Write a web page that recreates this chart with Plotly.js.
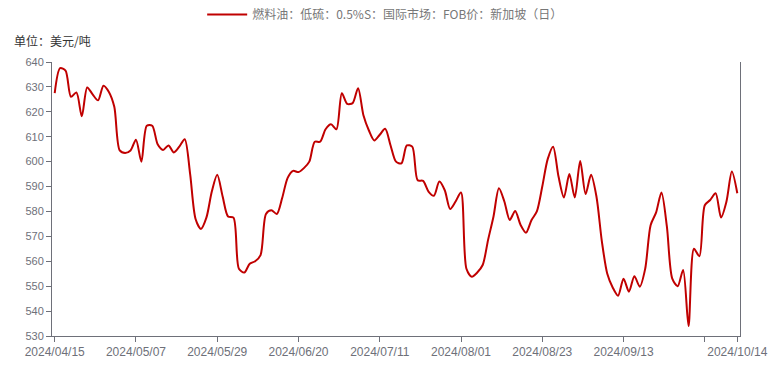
<!DOCTYPE html>
<html>
<head>
<meta charset="utf-8">
<script src="https://cdn.plot.ly/plotly-3.0.1.min.js"></script>
<style>
html,body{margin:0;padding:0;background:#fff;}
#chart{width:775px;height:365px;}
</style>
</head>
<body>
<div id="chart"></div>
<script>
// Trading dates (category axis)
const dates = [
 '2024/04/15','2024/04/16','2024/04/17','2024/04/18','2024/04/19','2024/04/22','2024/04/23','2024/04/24','2024/04/25','2024/04/26','2024/04/29','2024/04/30',
 '2024/05/02','2024/05/03','2024/05/06','2024/05/07','2024/05/08','2024/05/09','2024/05/10','2024/05/13','2024/05/14','2024/05/15','2024/05/16','2024/05/17','2024/05/20','2024/05/21','2024/05/23','2024/05/24','2024/05/27','2024/05/28','2024/05/29','2024/05/30','2024/05/31',
 '2024/06/03','2024/06/04','2024/06/05','2024/06/06','2024/06/07','2024/06/10','2024/06/11','2024/06/12','2024/06/13','2024/06/14','2024/06/18','2024/06/19','2024/06/20','2024/06/21','2024/06/24','2024/06/25','2024/06/26','2024/06/27','2024/06/28',
 '2024/07/01','2024/07/02','2024/07/03','2024/07/04','2024/07/05','2024/07/08','2024/07/09','2024/07/10','2024/07/11','2024/07/12','2024/07/15','2024/07/16','2024/07/17','2024/07/18','2024/07/19','2024/07/22','2024/07/23','2024/07/24','2024/07/25','2024/07/26','2024/07/29','2024/07/30','2024/07/31',
 '2024/08/01','2024/08/02','2024/08/05','2024/08/06','2024/08/07','2024/08/08','2024/08/12','2024/08/13','2024/08/14','2024/08/15','2024/08/16','2024/08/19','2024/08/20','2024/08/21','2024/08/22','2024/08/23','2024/08/26','2024/08/27','2024/08/28','2024/08/29','2024/08/30',
 '2024/09/02','2024/09/03','2024/09/04','2024/09/05','2024/09/06','2024/09/09','2024/09/10','2024/09/11','2024/09/12','2024/09/13','2024/09/16','2024/09/17','2024/09/18','2024/09/19','2024/09/20','2024/09/23','2024/09/24','2024/09/25','2024/09/26','2024/09/27','2024/09/30',
 '2024/10/01','2024/10/02','2024/10/03','2024/10/04','2024/10/07','2024/10/08','2024/10/09','2024/10/10','2024/10/11','2024/10/14'
];

// 燃料油：低硫：0.5%S：国际市场：FOB价：新加坡（日）, 美元/吨
const prices = [
 627.5,637.5,636.5,626,627.8,618.2,629.8,627,624.6,630.5,628,622,
 604.5,603.5,604.5,608.8,600,614.4,614.4,607,604.7,606.5,603.7,606,609,595,577,573,577.5,588,594.7,586,578,
 577.5,557,555.5,559,560,562.5,579,580.5,579,585.5,593.5,596.3,595.8,597.4,600,608,608,613,615,
 613,627.5,623.2,623.5,629.5,618.5,612.5,608.5,610.8,613.2,606.5,600,599.3,606.5,606,592.5,592.3,588,586.3,592,588.5,581,584,
 587.6,557,553.8,555.5,558.5,568.6,578,589.3,584,576.6,580.2,574.6,571.5,576.5,580,590,601,606,594,585.6,595,
 585.6,600.3,587,594.7,586,568,555,549.5,546.2,553,547.8,554,549.8,557,574.5,579.5,587.6,574,553,550,556.5,
 534,565,562,582.5,584.6,587.3,577.6,584,596,587.3
];

const seriesName = '燃料油：低硫：0.5%S：国际市场：FOB价：新加坡（日）';
const unitText = '单位：美元/吨';
const tickDates = ['2024/04/15','2024/05/07','2024/05/29','2024/06/20','2024/07/11','2024/08/01','2024/08/23','2024/09/13','2024/10/04','2024/10/14'];
const tickTexts = ['2024/04/15','2024/05/07','2024/05/29','2024/06/20','2024/07/11','2024/08/01','2024/08/23','2024/09/13','','2024/10/14'];
const yTicks = [530,540,550,560,570,580,590,600,610,620,630,640];

const axisColor = '#6E7079';
const labelFont = {family:'"Liberation Sans", Arial, sans-serif', size:12, color:'#6E7079'};

const trace = {
  x: dates,
  y: prices,
  type: 'scatter',
  mode: 'lines',
  name: seriesName,
  line: {color:'#c00000', width:2, shape:'spline', smoothing:0.8},
  hoverinfo: 'x+y'
};

const layout = {
  width: 775,
  height: 365,
  margin: {l:52, r:35, t:62, b:29, pad:0},
  paper_bgcolor: '#ffffff',
  plot_bgcolor: '#ffffff',
  showlegend: true,
  legend: {
    orientation: 'h',
    xref: 'container', yref: 'container',
    x: 0.497, xanchor: 'center',
    y: 1.0, yanchor: 'top',
    itemwidth: 40,
    font: {family:'"Noto Sans CJK SC", sans-serif', size:12, color:'#777777'},
    bgcolor: 'rgba(0,0,0,0)'
  },
  xaxis: {
    type: 'category',
    range: [-0.5, dates.length - 0.5],
    tickmode: 'array',
    tickvals: tickDates,
    ticktext: tickTexts,
    showline: true, linecolor: axisColor, linewidth: 1,
    ticks: 'outside', ticklen: 5, tickcolor: axisColor, tickwidth: 1,
    showgrid: false, zeroline: false,
    tickfont: labelFont,
    fixedrange: true
  },
  yaxis: {
    range: [530, 640],
    tickmode: 'array',
    tickvals: yTicks,
    showline: true, linecolor: axisColor, linewidth: 1, mirror: true,
    ticks: 'outside', ticklen: 5, tickcolor: axisColor, tickwidth: 1,
    showgrid: false, zeroline: false,
    tickfont: {family:'"Liberation Sans", Arial, sans-serif', size:11, color:'#6E7079'},
    fixedrange: true
  },
  annotations: [{
    text: unitText,
    xref: 'paper', yref: 'paper',
    x: -0.058, xanchor: 'left',
    y: 1.08, yanchor: 'middle',
    showarrow: false,
    font: {family:'"Noto Sans CJK SC", sans-serif', size:12, color:'#333333'}
  }]
};

Plotly.newPlot('chart', [trace], layout, {displayModeBar:false, staticPlot:true});
</script>
</body>
</html>
